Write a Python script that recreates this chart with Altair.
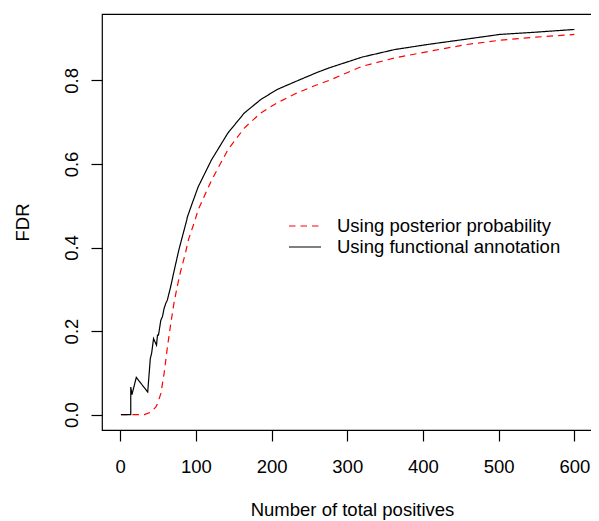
import altair as alt
import pandas as pd

series_names = ["Using posterior probability", "Using functional annotation"]

# Using functional annotation (black solid)
fa_x = [1, 14, 14, 15.6, 21.3, 36.4, 39.8, 41.5, 44.1, 48, 49.3, 50.6, 53.7, 55.8,
        58, 60.2, 62.3, 66.7, 71, 77.5, 88, 88.6, 95, 103, 120.7, 142.3, 164,
        185.6, 207, 230, 260, 276, 320, 363, 406, 458, 501, 545, 600]
fa_y = [0, 0, 0.066, 0.048, 0.089, 0.054, 0.134, 0.146, 0.182, 0.166, 0.19, 0.19,
        0.226, 0.234, 0.254, 0.266, 0.274, 0.306, 0.342, 0.394, 0.466, 0.472, 0.505,
        0.545, 0.61, 0.674, 0.722, 0.754, 0.778, 0.796, 0.819, 0.83, 0.856, 0.874,
        0.886, 0.899, 0.91, 0.915, 0.922]

# Using posterior probability (red dashed)
pp_x = [1, 32, 40.7, 47, 49.3, 53.7, 58, 62.3, 66.7, 71, 75.3, 79.7, 86, 90.4, 99,
        103, 120.7, 142.3, 164, 185.6, 207, 230, 255, 276, 320, 363, 415, 458, 501,
        545, 600]
pp_y = [0, 0, 0.006, 0.018, 0.026, 0.05, 0.098, 0.16, 0.216, 0.266, 0.306, 0.342,
        0.385, 0.42, 0.466, 0.49, 0.561, 0.634, 0.686, 0.722, 0.746, 0.767, 0.786,
        0.80, 0.834, 0.854, 0.872, 0.886, 0.896, 0.903, 0.91]

x_ticks = [0, 100, 200, 300, 400, 500, 600]
y_ticks = [0.0, 0.2, 0.4, 0.6, 0.8]

rows = []
for i, (a, b) in enumerate(zip(pp_x, pp_y)):
    rows.append({"series": series_names[0], "x": a, "y": b, "i": i})
for i, (a, b) in enumerate(zip(fa_x, fa_y)):
    rows.append({"series": series_names[1], "x": a, "y": b, "i": i})
df = pd.DataFrame(rows)

FONT = "Liberation Sans"
FS = 18.5

legend = alt.Legend(
    title=None,
    orient="none",
    legendX=192,
    legendY=201,
    symbolType="M-1.6,0H1.6",
    symbolSize=400,
    symbolStrokeWidth=1.2,
    labelFont=FONT,
    labelFontSize=FS,
    labelColor="black",
    labelLimit=0,
    labelOffset=21,
    rowPadding=0,
    padding=0,
    offset=0,
)

chart = alt.Chart(df).mark_line(strokeWidth=1.2).encode(
    x=alt.X("x:Q",
            scale=alt.Scale(domain=[-24, 623.3], nice=False, zero=False),
            axis=alt.Axis(values=x_ticks, title="Number of total positives",
                          labelPadding=31, labelBaseline="alphabetic",
                          labelAlign="center",
                          titleX=250, titleAlign="center",
                          titleY=85, titleBaseline="alphabetic")),
    y=alt.Y("y:Q",
            scale=alt.Scale(domain=[-0.0369, 0.959], nice=False, zero=False),
            axis=alt.Axis(values=y_ticks, format=".1f", title="FDR",
                          labelAngle=-90, labelAlign="center",
                          labelBaseline="alphabetic", labelPadding=14,
                          titleX=-74, titleY=208, titleAngle=-90,
                          titleAlign="center", titleBaseline="alphabetic")),
    color=alt.Color("series:N",
                    scale=alt.Scale(domain=series_names, range=["#ff0000", "#000000"]),
                    legend=legend),
    strokeDash=alt.StrokeDash("series:N",
                              scale=alt.Scale(domain=series_names, range=[[6.5, 5], [1, 0]]),
                              legend=legend),
    order="i:Q",
).properties(
    width=490,
    height=416,
    background="white",
    autosize=alt.AutoSizeParams(type="none"),
    padding={"left": 94, "top": 6, "right": -1, "bottom": 90},
).configure_view(
    stroke="black", strokeWidth=1.2
).configure_axis(
    domain=False, grid=False, ticks=True, tickColor="black", tickSize=11,
    tickWidth=1.2,
    labelFont=FONT, labelFontSize=FS, labelColor="black",
    titleFont=FONT, titleFontSize=FS, titleFontWeight="normal", titleColor="black",
)

chart.save("out.html", embed_options={"renderer": "svg", "actions": False})
